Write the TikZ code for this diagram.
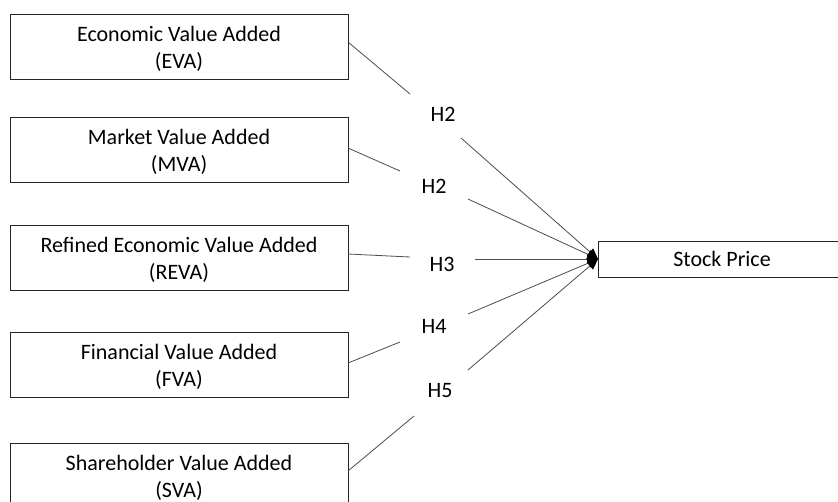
\documentclass[tikz,border=0pt]{standalone}
\usepackage{fontspec}
\setmainfont{Carlito}
\usetikzlibrary{arrows.meta}
\begin{document}
\begin{tikzpicture}[x=0.75pt,y=-0.75pt,
  box/.style={draw=black!85,line width=0.75pt,minimum width=338*0.75pt,minimum height=65*0.75pt,
    align=center,inner sep=0pt,text height=35.25pt,text depth=3pt,font=\fontsize{16.5}{20.25}\selectfont},
  spbox/.style={draw=black!85,line width=0.75pt,minimum width=248*0.75pt,minimum height=36*0.75pt,
    inner sep=0pt,font=\fontsize{16.5}{20.25}\selectfont},
  hlab/.style={anchor=base,inner sep=0pt,font=\fontsize{16.5}{18}\selectfont},
  conn/.style={draw=black!70,line width=0.6pt},
  arr/.style={conn,-{Triangle[length=8pt,width=7pt,fill=black,color=black]}}]
\useasboundingbox (0,0) rectangle (838,501);
\clip (0,0) rectangle (838,501);
\fill[white] (0,0) rectangle (838,501);
% boxes
\node[box] (eva)  at (179,46.5)  {Economic Value Added\\(EVA)};
\node[box] (mva)  at (179,149.5) {Market Value Added\\(MVA)};
\node[box] (reva) at (179,257.5) {Refined Economic Value Added\\(REVA)};
\node[box] (fva)  at (179,364.5) {Financial Value Added\\(FVA)};
\node[box] (sva)  at (179,475.5) {Shareholder Value Added\\(SVA)};
\node[spbox] (sp) at (722,259) {Stock Price};
% hypothesis labels
\node[hlab] (h1) at (443,121) {H2};
\node[hlab] (h2) at (434,193) {H2};
\node[hlab] (h3) at (442,271) {H3};
\node[hlab] (h4) at (434,333) {H4};
\node[hlab] (h5) at (440,397) {H5};
% connector points
\coordinate (a1) at (348,42);  \coordinate (b1) at (410,94);  \coordinate (c1) at (461,138);
\coordinate (a2) at (348,148); \coordinate (b2) at (400,171); \coordinate (c2) at (468,199);
\coordinate (a3) at (348,254); \coordinate (b3) at (410,257); \coordinate (c3) at (475,259);
\coordinate (a4) at (348,363); \coordinate (b4) at (400,342); \coordinate (c4) at (468,314);
\coordinate (a5) at (348,471); \coordinate (b5) at (414,416); \coordinate (c5) at (468,370);
\coordinate (tip) at (598,259);
% first segments
\draw[conn] (a1) -- (b1);
\draw[conn] (a2) -- (b2);
\draw[conn] (a3) -- (b3);
\draw[conn] (a4) -- (b4);
\draw[conn] (a5) -- (b5);
% arrows to stock price
\draw[arr] (c1) -- (tip);
\draw[arr] (c2) -- (tip);
\draw[arr] (c3) -- (tip);
\draw[arr] (c4) -- (tip);
\draw[arr] (c5) -- (tip);
\end{tikzpicture}
\end{document}
